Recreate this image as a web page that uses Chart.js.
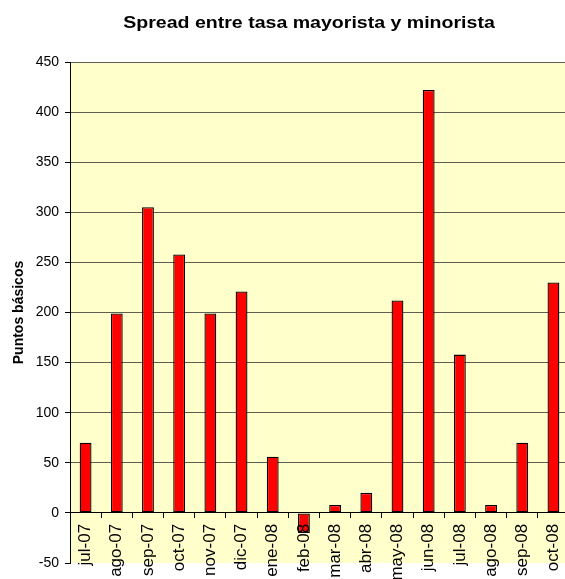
<!DOCTYPE html>
<html>
<head>
<meta charset="utf-8">
<script src="https://cdn.jsdelivr.net/npm/chart.js@4.4.0/dist/chart.umd.min.js"></script>
<style>
  html, body { margin: 0; padding: 0; overflow: hidden; background: #fff; }
  #wrap { width: 580px; height: 579px; }
</style>
</head>
<body>
<div id="wrap"><canvas id="spreadChart" width="580" height="579"></canvas></div>
<script>
const months = ["jul-07", "ago-07", "sep-07", "oct-07", "nov-07", "dic-07", "ene-08", "feb-08",
                "mar-08", "abr-08", "may-08", "jun-08", "jul-08", "ago-08", "sep-08", "oct-08"];
const spread = [70, 199, 305, 258, 199, 221, 56, -20, 8, 20, 212, 422, 158, 8, 70, 230];
const yMin = -50;
const yMax = 450;
const yStep = 50;

const chartTitle = "Spread entre tasa mayorista y minorista";
const yTitle = "Puntos básicos";
const FONT = "'Liberation Sans', Arial, sans-serif";

// yellow plot background + title text (the original title is a bit wide, so stretch it)
const decor = {
    id: "decor",
    beforeDraw(chart) {
        const { ctx, chartArea } = chart;
        ctx.save();
        ctx.fillStyle = "#FFFFCC";
        ctx.fillRect(chartArea.left, chartArea.top, chartArea.right - chartArea.left, chartArea.bottom - chartArea.top);
        ctx.restore();
    },
    afterDraw(chart) {
        const ctx = chart.ctx;
        ctx.save();
        ctx.translate(309, 23);
        ctx.scale(1.15, 1);
        ctx.font = "bold 17px " + FONT;
        ctx.fillStyle = "#000";
        ctx.textAlign = "center";
        ctx.textBaseline = "middle";
        ctx.fillText(chartTitle, 0, 0);
        ctx.restore();
    }
};

const ctx = document.getElementById("spreadChart");

new Chart(ctx, {
    type: "bar",
    data: {
        labels: months,
        datasets: [{
            label: "Spread",
            data: spread,
            backgroundColor: "#FF0000",
            borderColor: "#000000",
            borderWidth: 1.3,
            borderSkipped: false,
            barPercentage: 0.38,
            categoryPercentage: 1
        }]
    },
    options: {
        responsive: false,
        animation: false,
        layout: { padding: { top: 62, right: 5, bottom: 16, left: 0 } },
        plugins: {
            legend: { display: false },
            tooltip: { enabled: false },
            title: { display: false }
        },
        scales: {
            x: {
                position: { y: 0 },
                offset: true,
                grid: {
                    offset: true,
                    drawOnChartArea: false,
                    tickLength: 5,
                    tickColor: "#000"
                },
                border: { color: "#000", width: 1, z: 1 },
                ticks: {
                    z: 1, // labels sit on top of the bars (feb-08)
                    color: "#000",
                    font: { family: FONT, size: 17 },
                    minRotation: 90,
                    maxRotation: 90,
                    padding: 6,
                    autoSkip: false
                }
            },
            y: {
                min: yMin,
                max: yMax,
                afterFit: (scale) => { scale.width = 70; },
                ticks: {
                    stepSize: yStep,
                    color: "#000",
                    font: { family: FONT, size: 14 },
                    padding: 6
                },
                grid: {
                    color: (c) => (c.tick && (c.tick.value === yMin || c.tick.value === 0)) ? "rgba(0,0,0,0)" : "#5e5e55",
                    tickColor: "#000",
                    tickLength: 5
                },
                border: { color: "#000", width: 1 },
                title: {
                    display: true,
                    text: yTitle,
                    color: "#000",
                    font: { family: FONT, size: 14, weight: "bold" },
                    padding: { top: 11, bottom: 0 }
                }
            }
        }
    },
    plugins: [decor]
});
</script>
</body>
</html>
